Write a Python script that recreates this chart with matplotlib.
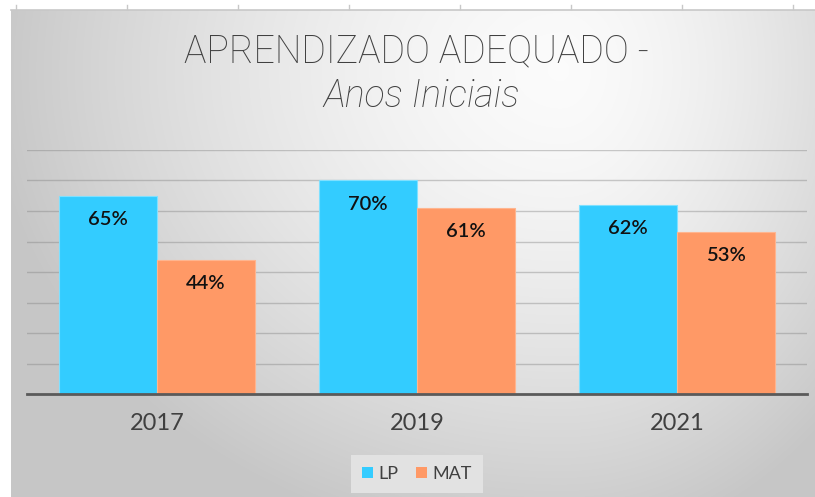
import numpy as np
import matplotlib
matplotlib.use("Agg")
import matplotlib.pyplot as plt
from matplotlib.patches import Patch

# dados do gráfico
anos = ["2017", "2019", "2021"]
lp = [65, 70, 62]
mat = [44, 61, 53]
series = ["LP", "MAT"]
cores = ["#33CCFF", "#FF9966"]

W, H = 815, 497
fig = plt.figure(figsize=(W / 100, H / 100), dpi=100)
fig.patch.set_facecolor("white")

# fundo com degradê
bg = fig.add_axes([0, 0, 1, 1], zorder=-10)
bg.set_xlim(0, W)
bg.set_ylim(H, 0)
bg.axis("off")
xx, yy = np.meshgrid(np.arange(11, W), np.arange(10, H))
cx, cy = 560, 70
sx = np.where(xx < cx, 560, 380)
r = np.sqrt(((xx - cx) / sx) ** 2 + ((yy - cy) / 470) ** 2)
val = np.clip(0.985 - 0.2 * r ** 1.5, 0.78, 1)
bg.imshow(np.dstack([val, val, val]), extent=[11, W, H, 10], aspect="auto",
          interpolation="bilinear")
bg.plot([11, W], [9.5, 9.5], color="#c8c8c8", lw=1.2)
for tx in range(16, W, 111):
    bg.plot([tx, tx], [5, 9], color="#c8c8c8", lw=1)
bg.set_xlim(0, W)
bg.set_ylim(H, 0)

# área do gráfico
left, right = 27 / W, 807 / W
bottom, top = 1 - 394 / H, 1 - 150 / H
ax = fig.add_axes([left, bottom, right - left, top - bottom])
ax.patch.set_alpha(0)

x = np.arange(len(anos))
w = 0.377
b1 = ax.bar(x - w / 2, lp, w, color=cores[0], edgecolor="#7fe0ff", lw=0.8, zorder=3)
b2 = ax.bar(x + w / 2, mat, w, color=cores[1], edgecolor="#ffb58f", lw=0.8, zorder=3)

for bars, vals in [(b1, lp), (b2, mat)]:
    for rect, v in zip(bars, vals):
        ax.annotate(f"{v}%", (rect.get_x() + rect.get_width() / 2, v),
                    xytext=(0, -17), textcoords="offset points",
                    ha="center", va="center", fontsize=14.5,
                    family=["Lato", "DejaVu Sans"], weight="semibold",
                    color="#111111", zorder=5)

ax.set_xlim(-0.5, 2.5)
ax.set_ylim(0, 80)
ax.set_yticks(np.arange(10, 81, 10))
ax.yaxis.grid(True, color="#808080", alpha=0.4, lw=1)
ax.set_axisbelow(True)
ax.tick_params(axis="y", left=False, labelleft=False)
ax.set_xticks(x)
ax.set_xticklabels(anos, fontsize=17, family=["Lato", "DejaVu Sans"], color="#404040")
ax.tick_params(axis="x", length=0, pad=14)
for s in ["top", "right", "left"]:
    ax.spines[s].set_visible(False)
ax.spines["bottom"].set_color("#5a5a5a")
ax.spines["bottom"].set_linewidth(2)
ax.spines["bottom"].set_zorder(4)

# título
fig.text(0.511, 1 - 62 / H, "APRENDIZADO ADEQUADO -", ha="center", va="baseline",
         fontsize=27, family=["Roboto", "DejaVu Sans"], weight="light", color="#404040")
fig.text(0.517, 1 - 107 / H, "Anos Iniciais", ha="center", va="baseline",
         fontsize=27, family=["Roboto", "DejaVu Sans"], weight="light",
         style="italic", color="#404040")

# legenda
handles = [Patch(facecolor=c, edgecolor="none") for c in cores]
leg = fig.legend(handles, series, loc="center", bbox_to_anchor=(417 / W, 1 - 474 / H),
                 ncol=2, frameon=True, fancybox=False, facecolor="#e2e2e2",
                 edgecolor="none", framealpha=1, handlelength=0.6, handleheight=0.6,
                 handletextpad=0.3, columnspacing=1.0, borderpad=0.6,
                 prop={"family": ["Lato", "DejaVu Sans"], "size": 13})
for t in leg.get_texts():
    t.set_color("#404040")

fig.savefig("out.png", dpi=100)
